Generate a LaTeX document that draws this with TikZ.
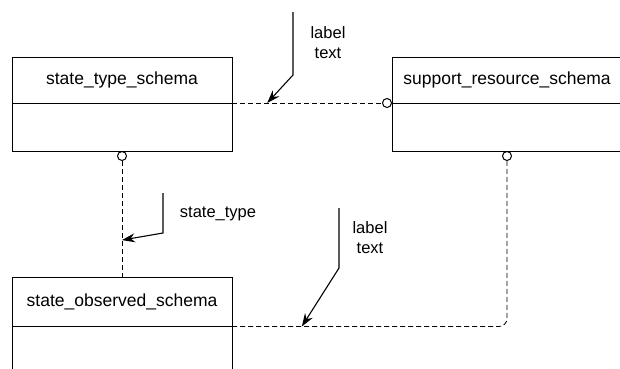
\documentclass[tikz,border=0pt]{standalone}
\usepackage{fontspec}
\setmainfont{Liberation Sans}
\usetikzlibrary{arrows.meta,positioning}

\begin{document}
\begin{tikzpicture}[x=1pt,y=-1pt,
    head/.style={draw, line width=1pt, minimum height=46pt, inner sep=0pt, outer sep=0pt, font=\fontsize{17.5}{21}\selectfont},
    body/.style={draw, line width=1pt, minimum height=48pt, inner sep=0pt, outer sep=0pt},
    link/.style={dash pattern=on 5pt off 3pt, line width=1pt},
    pointer/.style={line width=1.1pt, -{Stealth[length=13pt,width=9pt]}},
    note/.style={align=center, font=\fontsize{16.5}{20}\selectfont}]
    \useasboundingbox (0,0) rectangle (620,368);
    \clip (0,0) rectangle (620,368);
    % schema boxes
    \node[head, minimum width=220pt] (st) at (122,80) {state\_type\_schema};
    \node[body, minimum width=220pt, below=0pt of st] (stb) {};
    \node[head, minimum width=230pt] (sr) at (507,80) {support\_resource\_schema};
    \node[body, minimum width=230pt, below=0pt of sr] (srb) {};
    \node[head, minimum width=220pt, minimum height=49pt] (so) at (122,302) {state\_observed\_schema};
    \node[body, minimum width=220pt, minimum height=60pt, below=0pt of so] (sob) {};
    % relationships
    \draw[link, -{Circle[open,length=10pt]}] (st.south east) -- coordinate[pos=0.22] (t1) (sr.south west);
    \draw[link, -{Circle[open,length=10pt]}] (so.north) -- coordinate[pos=0.296] (t2) (stb.south);
    \draw[link, line width=0.8pt, rounded corners=8pt, -{Circle[open,length=10pt,line width=1pt]}] (so.south east) -| coordinate[pos=0.127] (t3) (srb.south);
    % labels
    \coordinate (n1) at (293,12);
    \draw[pointer] (n1) -- ++(0,63) -- (t1);
    \node[note] (l1) at (328,43) {label\\text};
    \coordinate (n2) at (163,193);
    \draw[pointer] (n2) -- ++(0,40) -- (t2);
    \node[note] (l2) at (218,214) {state\_type};
    \coordinate (n3) at (339,208);
    \draw[pointer] (n3) -- ++(0,60) -- (t3);
    \node[note] (l3) at (370,238) {label\\text};
\end{tikzpicture}
\end{document}
